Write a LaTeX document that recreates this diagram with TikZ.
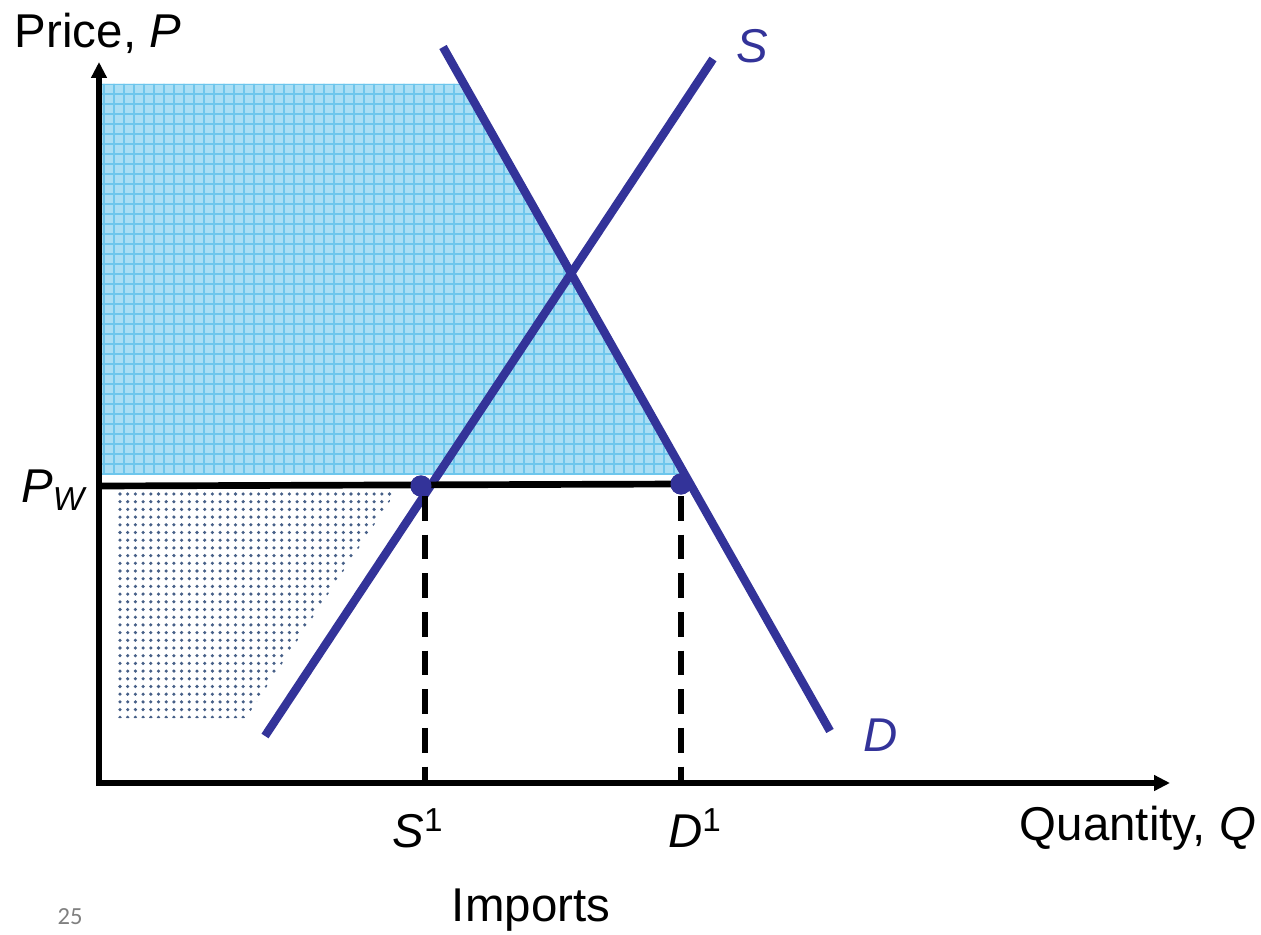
\documentclass[tikz,border=0pt]{standalone}
\usepackage{fontspec}
\setmainfont{Liberation Sans}
\newfontfamily\pagefont{Carlito}
\usepackage{tikz}
\usetikzlibrary{arrows.meta}
\usepackage{xcolor}
\definecolor{curveblue}{RGB}{51,51,153}
\definecolor{surplusblue}{RGB}{170,222,244}
\definecolor{gridblue}{RGB}{110,198,236}
\definecolor{dotblue}{RGB}{70,95,135}

\begin{document}
\begin{tikzpicture}[
  x=0.02cm, y=-0.02cm,
  font=\fontsize{27}{31}\selectfont,
  >=Triangle,
  axis/.style={line width=3.8pt, -{Triangle[length=9pt,width=8.5pt]}},
  curve/.style={line width=4.8pt, draw=curveblue},
  dashln/.style={line width=3pt, dash pattern=on 14pt off 8pt},
  dot/.style={circle, fill=curveblue, inner sep=0pt, minimum size=12pt},
  lbl/.style={inner sep=0pt},
]
\useasboundingbox (0,0) rectangle (1261,935);

% consumer surplus (cross hatched)
\fill[surplusblue] (102,84) -- (464,84) -- (686,475) -- (102,475) -- cycle;
\begin{scope}
  \clip (102,84) -- (464,84) -- (686,475) -- (102,475) -- cycle;
  \foreach \k in {0,...,40} {
    \draw[gridblue, line width=0.6pt] (100,84+\k*10) -- (700,84+\k*10);
  }
  \foreach \k in {0,...,60} {
    \draw[gridblue, line width=0.6pt] (104+\k*10,80) -- (104+\k*10,480);
  }
\end{scope}

% producer surplus (dotted)
\begin{scope}
  \clip (118,492) -- (396,492) -- (246,718) -- (118,718) -- cycle;
  \foreach \i in {0,...,36} {
    \foreach \j in {0,...,29} {
      \fill[dotblue] (120+\i*7.7,494+\j*7.7) circle[radius=1pt];
    }
  }
\end{scope}

% axes
\coordinate (O) at (99,783);
\coordinate (ytop) at (99,62);
\coordinate (xend) at (1170,783);
\draw[axis] (O) -- (ytop);
\draw[axis] (96,783) -- (xend);

% supply and demand
\coordinate (s0) at (265,736);
\coordinate (s1) at (713,59);
\coordinate (d0) at (443,47);
\coordinate (d1) at (830,731);
\draw[curve] (s0) -- (s1);
\draw[curve] (d0) -- (d1);

% world price
\coordinate (pw) at (99,486);
\node[dot] (eS) at (421,486) {};
\node[dot] (eD) at (681,484) {};
\draw[line width=3.8pt] (pw) -- (eD.center);
\node[dot] at (eS) {};
\node[dot] at (eD) {};

\coordinate (qS) at (425,783);
\coordinate (qD) at (681,783);
\draw[dashln] (425,496) -- (qS);
\draw[dashln] (681,496) -- (qD);

% labels
\node[lbl] (lP) at (98,33) {Price, \textit{P}};
\node[lbl, text=curveblue] (lS) at (752,46) {\textit{S}};
\node[lbl, text=curveblue] (lD) at (881,735) {\textit{D}};
\node[lbl, anchor=east] (lPW) at (88,490) {\textit{P}\textsubscript{\textit{W}}};
\node[lbl] (lS1) at (418,828) {\textit{S}\textsuperscript{1}};
\node[lbl] (lD1) at (695,828) {\textit{D}\textsuperscript{1}};
\node[lbl] (lQ) at (1138,828) {Quantity, \textit{Q}};
\node[lbl] (lImp) at (531,910) {Imports};
\node[lbl, text=black!50, font=\pagefont\fontsize{14}{16}\selectfont] (pg) at (70,917) {25};

\end{tikzpicture}
\end{document}
